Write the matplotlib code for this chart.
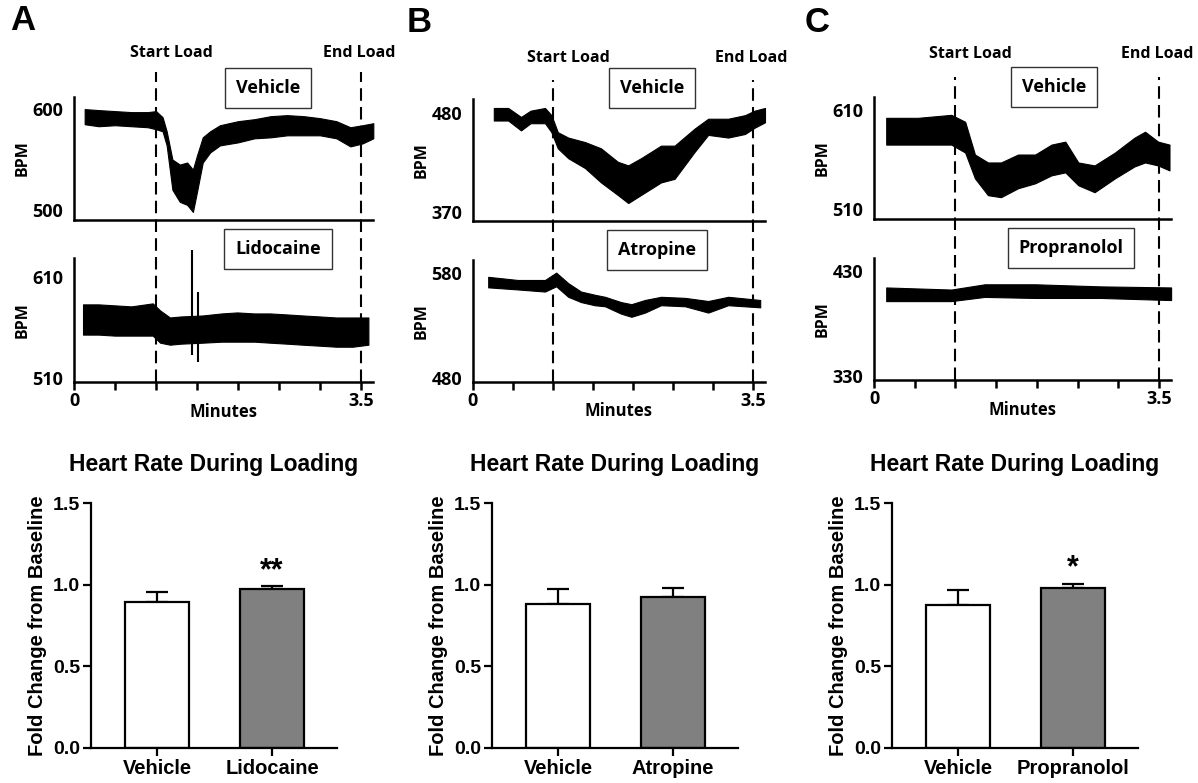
import numpy as np
import matplotlib
matplotlib.use("Agg")
import matplotlib.pyplot as plt

# ---- trace data (BPM envelopes) ----
# panel A, vehicle
a_veh_t = [0.13, 0.3, 0.5, 0.7, 0.9, 1.0, 1.08, 1.13, 1.2, 1.29, 1.38, 1.45, 1.5, 1.57, 1.66, 1.78, 2.0, 2.2, 2.4, 2.6, 2.8, 3.0, 3.2, 3.37, 3.52, 3.65]
a_veh_hi = [600, 599, 598, 597, 597, 598, 592, 578, 550, 545, 547, 540, 554, 572, 578, 584, 588, 590, 593, 594, 593, 591, 588, 582, 584, 586]
a_veh_lo = [585, 583, 584, 583, 582, 580, 578, 564, 520, 508, 505, 498, 518, 547, 557, 564, 567, 571, 572, 574, 574, 574, 571, 563, 566, 571]
# panel A, lidocaine
a_lid_t = [0.11, 0.3, 0.5, 0.7, 0.96, 1.05, 1.17, 1.3, 1.57, 1.8, 1.99, 2.2, 2.39, 2.6, 2.79, 3.0, 3.2, 3.4, 3.59]
a_lid_hi = [583, 583, 582, 581, 584, 577, 570, 571, 572, 574, 575, 574, 574, 573, 572, 571, 570, 570, 570]
a_lid_lo = [553, 553, 552, 552, 552, 545, 543, 544, 545, 546, 546, 546, 545, 544, 543, 542, 541, 541, 543]
a_lid_spike_t = [1.44, 1.51]
a_lid_spike_hi = [637, 595]
a_lid_spike_lo = [533, 526]
# panel B, vehicle
b_veh_t = [0.26, 0.44, 0.6, 0.72, 0.9, 0.98, 1.06, 1.19, 1.4, 1.6, 1.81, 1.94, 2.1, 2.35, 2.52, 2.77, 2.94, 3.19, 3.4, 3.52, 3.65]
b_veh_hi = [486, 486, 476, 483, 486, 478, 459, 453, 448, 441, 426, 422, 430, 444, 444, 463, 474, 474, 478, 483, 486]
b_veh_lo = [472, 472, 461, 469, 469, 459, 441, 430, 419, 403, 389, 380, 389, 403, 407, 437, 456, 453, 457, 464, 470]
# panel B, atropine
b_atr_t = [0.19, 0.56, 0.9, 1.04, 1.19, 1.35, 1.52, 1.65, 1.85, 1.98, 2.15, 2.35, 2.65, 2.94, 3.19, 3.59]
b_atr_hi = [576, 573, 573, 580, 570, 562, 559, 557, 552, 550, 554, 557, 556, 553, 557, 554]
b_atr_lo = [566, 564, 562, 567, 557, 552, 549, 548, 541, 538, 542, 549, 548, 542, 549, 547]
# panel C, vehicle
c_veh_t = [0.15, 0.54, 0.95, 1.12, 1.24, 1.4, 1.56, 1.77, 1.98, 2.18, 2.35, 2.51, 2.71, 2.96, 3.2, 3.33, 3.49, 3.63]
c_veh_hi = [602, 602, 605, 598, 565, 557, 557, 565, 565, 575, 578, 557, 554, 567, 582, 588, 578, 575]
c_veh_lo = [575, 575, 575, 567, 541, 524, 522, 531, 536, 544, 547, 534, 527, 541, 553, 557, 554, 549]
# panel C, propranolol
c_pro_t = [0.15, 0.95, 1.36, 1.98, 2.79, 3.65]
c_pro_hi = [414, 412, 417, 417, 415, 414]
c_pro_lo = [401, 401, 405, 404, 404, 402]

start_load = 1.0
end_load = 3.5

# ---- bar data (fold change from baseline, mean and SEM) ----
a_groups = ["Vehicle", "Lidocaine"]
a_mean = [0.894, 0.974]
a_sem = [0.063, 0.018]
b_groups = ["Vehicle", "Atropine"]
b_mean = [0.880, 0.927]
b_sem = [0.092, 0.055]
c_groups = ["Vehicle", "Propranolol"]
c_mean = [0.874, 0.978]
c_sem = [0.096, 0.029]
a_stars = ["", "**"]
b_stars = ["", ""]
c_stars = ["", "*"]

W, H = 1198, 783
TFONT = ["Open Sans", "DejaVu Sans"]
BFONT = ["Liberation Sans", "DejaVu Sans"]

fig = plt.figure(figsize=(W / 100, H / 100), dpi=100)


def px_axes(l, t, r, b):
    return fig.add_axes([l / W, 1 - b / H, (r - l) / W, (b - t) / H])


def ftext(x, y, s, **kw):
    fig.text(x / W, 1 - y / H, s, ha="center", va="center", **kw)


def trace_ax(l, t, r, b, ylim, yticks, t_, lo, hi, bottom):
    ax = px_axes(l, t, r, b)
    ax.fill_between(t_, lo, hi, color="black", lw=0.8, clip_on=False)
    ax.set_xlim(0, 3.65)
    ax.set_ylim(*ylim)
    for s in ["top", "right"]:
        ax.spines[s].set_visible(False)
    for s in ["left", "bottom"]:
        ax.spines[s].set_linewidth(1.8)
    ax.set_yticks(yticks)
    ax.set_yticklabels([str(v) for v in yticks], family=TFONT, weight="bold", fontsize=13)
    ax.tick_params(axis="y", length=0, pad=8)
    if bottom:
        ax.set_xticks(np.arange(0, 3.6, 0.5))
        ax.set_xticklabels(["0", "", "", "", "", "", "", "3.5"], family=TFONT, weight="bold", fontsize=13)
        ax.tick_params(axis="x", length=6, width=1.8, direction="out", pad=1)
    else:
        ax.set_xticks([])
    ax.patch.set_alpha(0)
    return ax


def trace_panel(l, scale, top_ax, bot_ax, dash_top, veh, drug, drug_name, boxes, labels_y, minutes_y):
    r = l + 3.65 * scale
    trace_ax(l, top_ax[0], r, top_ax[1], top_ax[2], top_ax[3], *veh, bottom=False)
    ax2 = trace_ax(l, bot_ax[0], r, bot_ax[1], bot_ax[2], bot_ax[3], *drug[:3], bottom=True)
    if len(drug) > 3:
        ax2.vlines(drug[3], drug[5], drug[4], color="black", lw=1.5, clip_on=False)
    # dashed load markers spanning both traces
    ov = px_axes(l, dash_top, r, bot_ax[1])
    ov.set_xlim(0, 3.65)
    ov.axis("off")
    for x in [start_load, end_load]:
        ov.axvline(x, color="black", lw=1.5, dashes=(6, 3))
    ftext(l + start_load * scale + 15, labels_y, "Start Load", family=TFONT, weight="bold", fontsize=11.5)
    ftext(l + end_load * scale - 2, labels_y, "End Load", family=TFONT, weight="bold", fontsize=11.5)
    for (bx, by), name in zip(boxes, ["Vehicle", drug_name]):
        ftext(bx, by, name, family=TFONT, weight="bold", fontsize=13,
              bbox=dict(boxstyle="square,pad=0.6", fc="white", ec="#333333", lw=1))
    ftext(l + 1.82 * scale, minutes_y, "Minutes", family=TFONT, weight="bold", fontsize=12)
    ftext(l - 51, (top_ax[0] + top_ax[1]) / 2, "BPM", family=TFONT, weight="bold", fontsize=11.5, rotation=90)
    ftext(l - 51, (bot_ax[0] + bot_ax[1]) / 2, "BPM", family=TFONT, weight="bold", fontsize=11.5, rotation=90)


def bar_panel(l, groups, mean, sem, stars):
    ax = px_axes(l, 503, l + 246, 748)
    x = np.arange(len(groups))
    ax.bar(x, mean, width=0.557, color=["white", "#808080"], edgecolor="black", lw=1.6, zorder=2)
    ax.errorbar(x, mean, yerr=[[0] * len(sem), sem], fmt="none", ecolor="black",
                elinewidth=1.6, capsize=8, capthick=1.6, zorder=1)
    for xi, m, s, st in zip(x, mean, sem, stars):
        if st:
            ax.annotate(st, (xi, m + s), xytext=(0, 0), textcoords="offset points",
                        ha="center", va="bottom", family=BFONT, weight="bold", fontsize=22)
    ax.set_xlim(-0.574, 1.565)
    ax.set_ylim(0, 1.5)
    ax.set_yticks([0, 0.5, 1.0, 1.5])
    ax.set_yticklabels(["0.0", "0.5", "1.0", "1.5"], family=BFONT, weight="bold", fontsize=14)
    ax.set_xticks(x)
    ax.set_xticklabels(groups, family=BFONT, weight="bold", fontsize=14.5)
    ax.tick_params(length=6, width=1.6, pad=2)
    for s in ["top", "right"]:
        ax.spines[s].set_visible(False)
    for s in ["left", "bottom"]:
        ax.spines[s].set_linewidth(1.6)
    ax.set_ylabel("Fold Change from Baseline", family=BFONT, weight="bold", fontsize=14.5, labelpad=4)
    ax.set_title("Heart Rate During Loading", family=BFONT, weight="bold", fontsize=16.5, pad=23)


# panel A
trace_panel(74, 82, (97, 220, (490, 612), [500, 600]), (258, 382, (506, 629), [510, 610]), 72,
            (a_veh_t, a_veh_lo, a_veh_hi),
            (a_lid_t, a_lid_lo, a_lid_hi, a_lid_spike_t, a_lid_spike_hi, a_lid_spike_lo),
            "Lidocaine", [(268, 88), (278, 249)], 53, 412)
# panel B
trace_panel(473, 80, (99, 221, (360, 496), [370, 480]), (260, 382, (476, 592), [480, 580]), 80,
            (b_veh_t, b_veh_lo, b_veh_hi), (b_atr_t, b_atr_lo, b_atr_hi),
            "Atropine", [(652, 88), (657, 250)], 58, 411)
# panel C
trace_panel(874, 81.4, (97, 219, (500, 623), [510, 610]), (258, 380, (326, 442), [330, 430]), 77,
            (c_veh_t, c_veh_lo, c_veh_hi), (c_pro_t, c_pro_lo, c_pro_hi),
            "Propranolol", [(1054, 87), (1071, 248)], 54, 410)

bar_panel(91, a_groups, a_mean, a_sem, a_stars)
bar_panel(492, b_groups, b_mean, b_sem, b_stars)
bar_panel(892, c_groups, c_mean, c_sem, c_stars)

for x, y, s in [(23, 21, "A"), (419, 22, "B"), (817, 22, "C")]:
    ftext(x, y, s, family=BFONT, weight="bold", fontsize=25)

fig.savefig("out.png", dpi=100)
